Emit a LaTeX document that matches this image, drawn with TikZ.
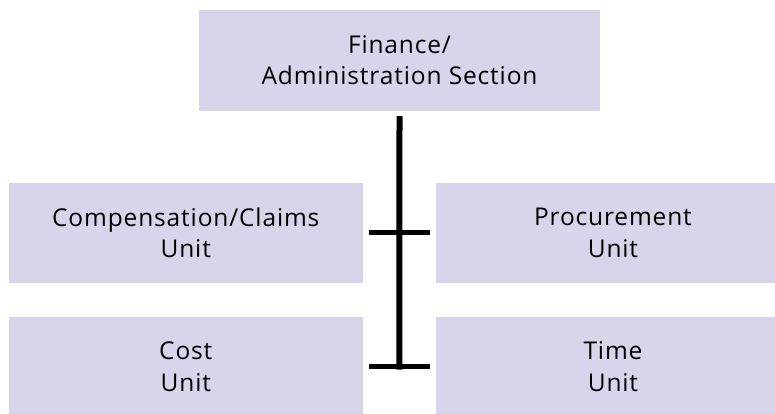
\documentclass[tikz,border=0pt]{standalone}
\usepackage{fontspec}
\setmainfont{Open Sans}[LetterSpace=3.5]
\usetikzlibrary{positioning,calc}

\definecolor{boxfill}{RGB}{216,212,234}

\begin{document}
\begin{tikzpicture}[x=1pt, y=1pt,
    unitbox/.style={fill=boxfill, rectangle, minimum width=354pt, minimum height=100pt, inner sep=0pt, align=center, font=\fontsize{24.5}{31.5}\selectfont},
    bar/.style={line width=6pt}]
    \useasboundingbox (0,0) rectangle (775,-414);

    \node (finance) [unitbox, minimum width=401pt, minimum height=100.5pt] at (399.5,-60.3) {Finance/\\Administration Section};
    \node (comp) [unitbox] at (185.8,-232.7) {Compensation/Claims\\Unit};
    \node (proc) [unitbox] at (613,-232.7) {Procurement\\Unit};
    \node (cost) [unitbox] at (185.8,-366.7) {Cost\\Unit};
    \node (time) [unitbox] at (613,-366.7) {Time\\Unit};

    % spine and the two cross bars
    \coordinate (upper) at ($(comp.east)!0.5!(proc.west)$);
    \coordinate (lower) at ($(cost.east)!0.5!(time.west)$);
    \coordinate (foot) at ([yshift=-3pt]lower);

    \draw [bar, shorten <=5.5pt] (finance.south) -- (foot);
    \draw [line width=5.5pt] ([xshift=-30.5pt]upper) -- ([xshift=30.5pt]upper);
    \draw [line width=5.5pt] ([xshift=-30.5pt]lower) -- ([xshift=30.5pt]lower);

\end{tikzpicture}
\end{document}
